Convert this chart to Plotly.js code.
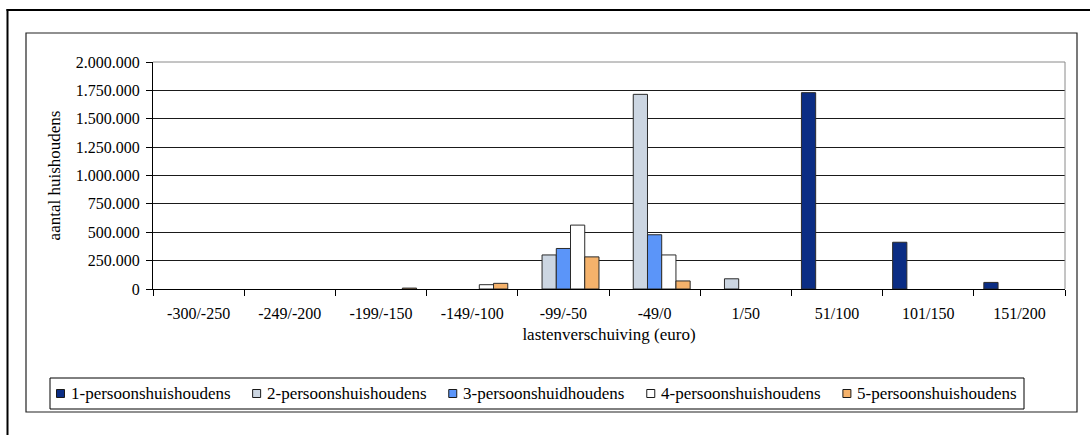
<!DOCTYPE html>
<html>
<head>
<meta charset="utf-8">
<script src="https://cdn.plot.ly/plotly-3.0.1.min.js"></script>
<style>
  html, body { margin: 0; padding: 0; background: #fff; }
  #chart { width: 1090px; height: 435px; }
</style>
</head>
<body>
<div id="chart"></div>
<script>
const categories = ['-300/-250','-249/-200','-199/-150','-149/-100','-99/-50','-49/0','1/50','51/100','101/150','151/200'];
const seriesNames = ['1-persoonshuishoudens','2-persoonshuishoudens','3-persoonshuidhoudens','4-persoonshuishoudens','5-persoonshuishoudens'];
const p1 = [null, null, null, null, null, null, null, 1730000, 412000, 58000];
const p2 = [null, null, null, null, 300000, 1715000, 90000, null, null, null];
const p3 = [null, null, null, null, 357000, 478000, null, null, null, null];
const p4 = [null, null, null, 38000, 563000, 300000, null, null, null, null];
const p5 = [null, null, 8000, 50000, 283000, 71000, null, null, null, null];
const yTicks = [0, 250000, 500000, 750000, 1000000, 1250000, 1500000, 1750000, 2000000];

const colors = ['#0B2D84', '#CCD6E2', '#5B95F9', '#FFFFFF', '#F5B26B'];
const values = [p1, p2, p3, p4, p5];

const FONT = 'Liberation Serif';
const TICK_SIZE = 16;
const TITLE_SIZE = 17;
const LEG_SIZE = 17;

const traces = values.map((v, i) => ({
  type: 'bar',
  name: seriesNames[i],
  x: categories,
  y: v,
  marker: { color: colors[i], line: { color: '#2b2b2b', width: 1 } },
  showlegend: false
}));

// pixel -> paper helpers (plot area: x 153..1065, y 62..289)
const L = 153, R = 1065, T = 62, B = 289;
const px = x => (x - L) / (R - L);
const py = y => (B - y) / (B - T);

// custom legend (Excel style): swatch + text, spread across the box
const canvas = document.createElement('canvas');
const ctx = canvas.getContext('2d');
ctx.font = LEG_SIZE + 'px "' + FONT + '"';
const SW = 8, GAP_ST = 4.5, LEG_X0 = 56.5, LEG_X1 = 1015, LEG_Y = 393.5;
const widths = seriesNames.map(n => ctx.measureText(n).width);
const used = widths.reduce((a, w) => a + SW + GAP_ST + w, 0);
const spacing = (LEG_X1 - LEG_X0 - used) / (seriesNames.length - 1);

const legendShapes = [];
const legendAnn = [];
let cx = LEG_X0;
seriesNames.forEach((n, i) => {
  legendShapes.push({
    type: 'rect', xref: 'paper', yref: 'paper',
    x0: px(cx), x1: px(cx + SW), y0: py(LEG_Y + SW / 2), y1: py(LEG_Y - SW / 2),
    fillcolor: colors[i], line: { color: '#1a1a1a', width: 1 }
  });
  legendAnn.push({
    xref: 'paper', yref: 'paper', x: px(cx + SW + GAP_ST), y: py(LEG_Y),
    xanchor: 'left', yanchor: 'middle', showarrow: false,
    text: n, font: { family: FONT, size: LEG_SIZE, color: '#000' }
  });
  cx += SW + GAP_ST + widths[i] + spacing;
});

const layout = {
  width: 1090,
  height: 435,
  margin: { l: L, r: 1090 - R, t: T, b: 435 - B, pad: 0 },
  paper_bgcolor: '#ffffff',
  plot_bgcolor: '#ffffff',
  separators: ',.',
  font: { family: FONT, size: TICK_SIZE, color: '#000' },
  barmode: 'group',
  bargap: 0.22,
  bargroupgap: 0,
  showlegend: false,
  xaxis: {
    type: 'category',
    showline: true, linecolor: '#000', linewidth: 1,
    ticks: 'outside', ticklen: 6, tickcolor: '#000', tickson: 'boundaries',
    ticklabelstandoff: 10,
    showgrid: false,
    tickfont: { family: FONT, size: TICK_SIZE, color: '#000' },
    title: { text: 'lastenverschuiving (euro)', font: { family: FONT, size: TITLE_SIZE, color: '#000' }, standoff: 6 },
    fixedrange: true
  },
  yaxis: {
    range: [0, 2000000],
    tickvals: yTicks,
    tickformat: ',',
    showline: true, linecolor: '#000', linewidth: 1,
    ticks: 'outside', ticklen: 6, tickcolor: '#000',
    ticklabelstandoff: 3,
    showgrid: true, gridcolor: '#1a1a1a', gridwidth: 1,
    zeroline: false,
    tickfont: { family: FONT, size: TICK_SIZE, color: '#000' },
    title: { text: 'aantal huishoudens', font: { family: FONT, size: TITLE_SIZE, color: '#000' }, standoff: 10 },
    fixedrange: true
  },
  annotations: legendAnn,
  shapes: [
    // plot area border (gray) top and right
    { type: 'line', xref: 'paper', yref: 'paper', x0: 0, x1: 1, y0: 1, y1: 1, line: { color: '#8a8a8a', width: 1 } },
    { type: 'line', xref: 'paper', yref: 'paper', x0: 1, x1: 1, y0: 0, y1: 1, line: { color: '#8a8a8a', width: 1 } },
    // inner chart frame
    { type: 'rect', xref: 'paper', yref: 'paper', x0: px(26), x1: px(1077), y0: py(412), y1: py(33), line: { color: '#222', width: 1.2 }, layer: 'below' },
    // legend box
    { type: 'rect', xref: 'paper', yref: 'paper', x0: px(50), x1: px(1024), y0: py(409), y1: py(378), line: { color: '#000', width: 1 } },
    // outer frame (left and top, thick)
    { type: 'line', xref: 'paper', yref: 'paper', x0: px(7.5), x1: px(7.5), y0: py(9), y1: py(440), line: { color: '#000', width: 2 } },
    { type: 'line', xref: 'paper', yref: 'paper', x0: px(6.5), x1: px(1095), y0: py(10), y1: py(10), line: { color: '#000', width: 2 } }
  ].concat(legendShapes)
};

Plotly.newPlot('chart', traces, layout, { displayModeBar: false, staticPlot: true });
</script>
</body>
</html>
